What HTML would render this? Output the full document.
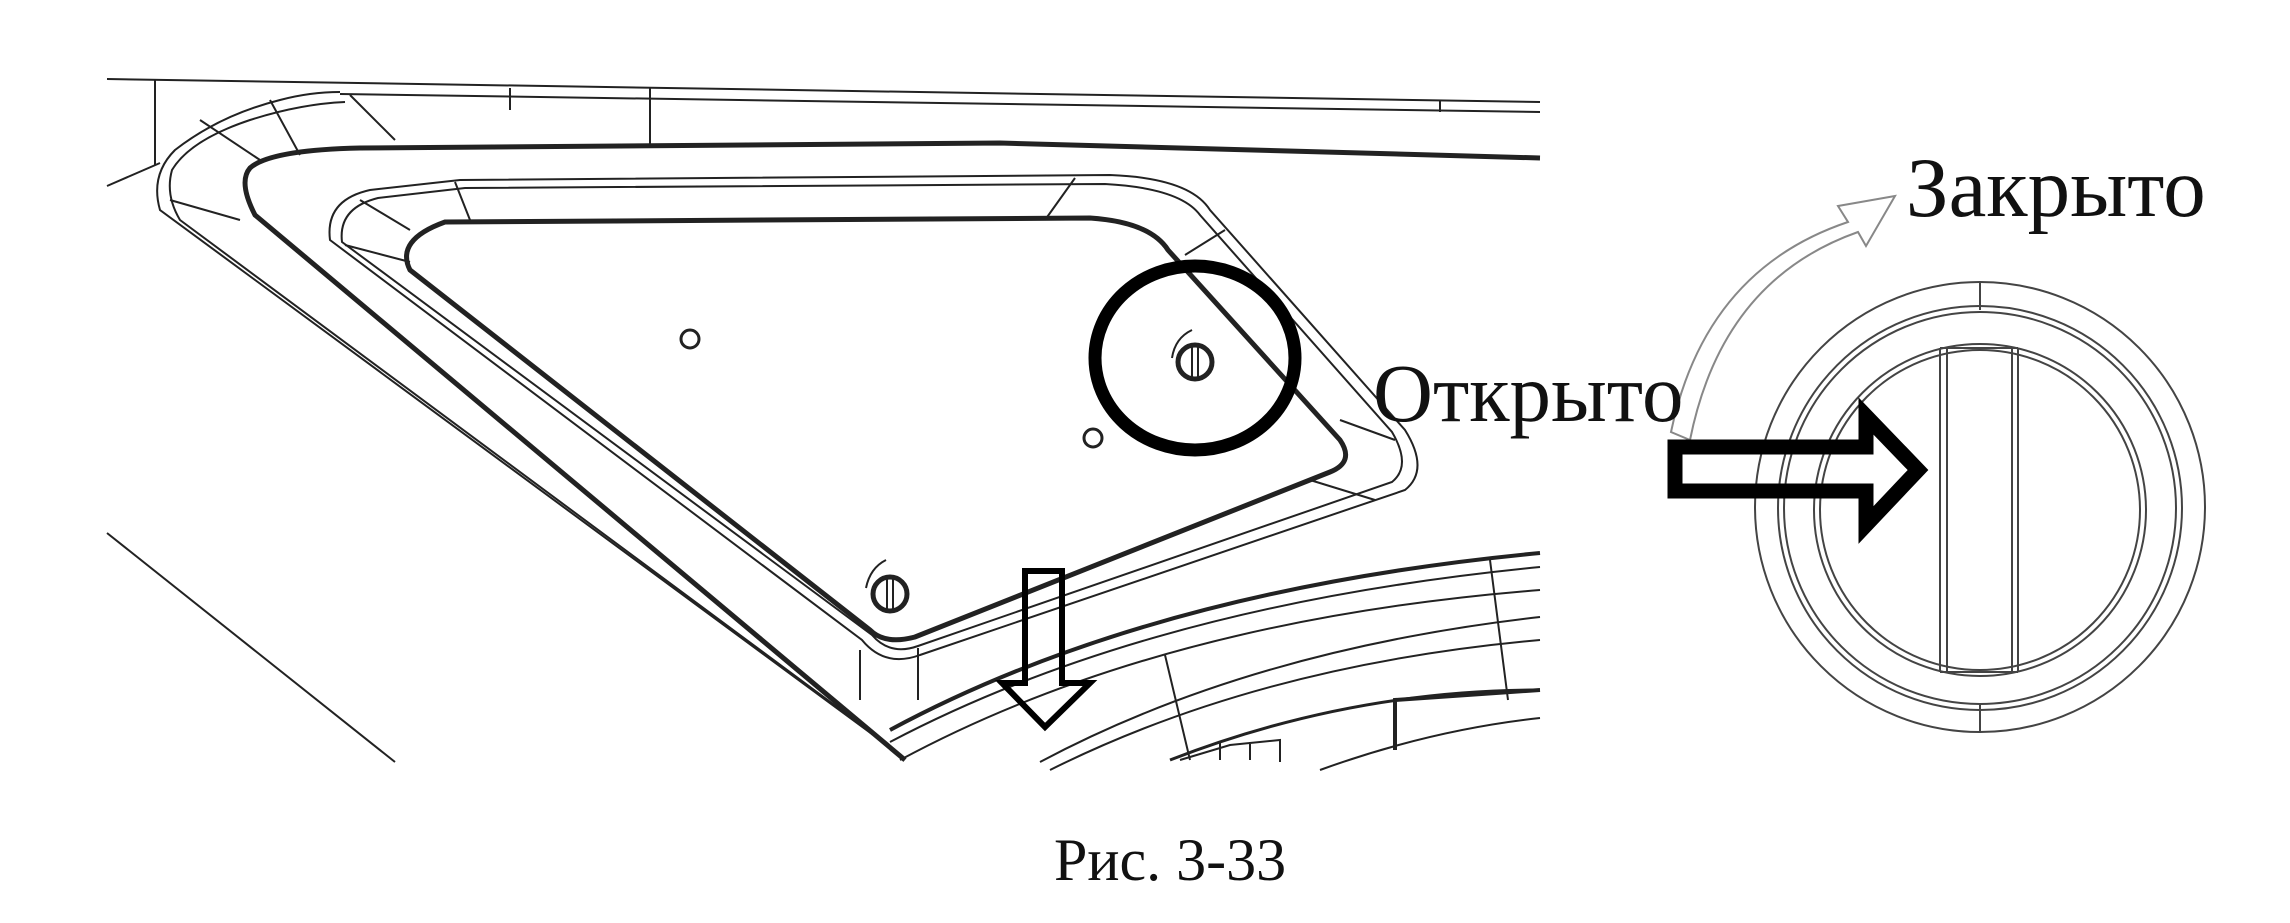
<!DOCTYPE html>
<html><head><meta charset="utf-8"><style>
html,body{margin:0;padding:0;background:#fff;}
svg{display:block}
text{font-family:"Liberation Serif",serif;fill:#111}
</style></head><body>
<svg width="2290" height="923" viewBox="0 0 2290 923" xmlns="http://www.w3.org/2000/svg">
<g fill="none" stroke="#222" stroke-width="2">
<path d="M107 79 L1540 102"/>
<path d="M340 94 L1540 112"/>
<path d="M155 79 L155 165"/>
<path d="M107 186 L160 163"/>
<path d="M107 533 L395 762"/>
<path d="M510 88 L510 110 M650 88 L650 148 M1440 100 L1440 112"/>
<path d="M340 92 Q310 92 280 100 Q220 115 175 150 Q150 175 160 210 L880 740"/>
<path d="M345 102 Q300 104 250 120 Q190 140 172 170 Q165 195 180 220 L895 750"/>
<path d="M200 120 L260 160 M170 200 L240 220 M270 100 L300 155 M350 95 L395 140"/>
<path d="M1540 158 L1000 143 L360 148 Q270 150 250 168 Q238 182 255 215 L905 760" stroke-width="5"/>
<path d="M460 180 L1110 175 Q1190 178 1210 210 L1405 430 Q1430 470 1405 490 L920 655 Q885 668 862 640 L330 240 Q325 200 370 190 Z"/>
<path d="M465 188 L1105 184 Q1180 188 1200 215 L1392 432 Q1412 466 1392 482 L918 646 Q890 656 872 635 L342 242 Q338 208 378 198 Z"/>
<path d="M455 182 L470 220 M1075 178 L1045 220 M1225 230 L1185 255 M1340 420 L1395 440 M1310 480 L1375 500 M860 650 L860 700 M918 648 L918 700 M345 245 L410 262 M360 200 L410 230"/>
<path d="M445 222 L1090 218 Q1150 222 1168 250 L1340 440 Q1355 462 1330 472 L915 637 Q885 645 870 630 L410 270 Q395 240 445 222 Z" stroke-width="5"/>
<circle cx="690" cy="339" r="9" stroke-width="3"/>
<circle cx="1093" cy="438" r="9" stroke-width="3"/>
<circle cx="1195" cy="362" r="17" stroke-width="5"/>
<path d="M1192 347 V377 M1198 347 V377" stroke-width="2"/>
<path d="M1172 358 Q1175 338 1192 330" stroke-width="2"/>
<circle cx="890" cy="594" r="17" stroke-width="5"/>
<path d="M887 579 V609 M893 579 V609" stroke-width="2"/>
<path d="M866 588 Q870 568 886 560" stroke-width="2"/>
<ellipse cx="1195" cy="358" rx="100" ry="92" stroke="#000" stroke-width="13"/>
<path d="M890 730 Q1150 590 1540 553" stroke-width="4"/>
<path d="M890 742 Q1150 605 1540 567"/>
<path d="M900 760 Q1160 620 1540 590"/>
<path d="M1040 762 Q1250 650 1540 617"/>
<path d="M1050 770 Q1260 665 1540 640"/>
<path d="M1170 760 Q1350 690 1540 690" stroke-width="3"/>
<path d="M1165 655 L1190 760 M1490 560 L1508 700"/>
<path d="M1395 750 L1395 700 L1540 690" stroke-width="4"/>
<path d="M1180 760 L1230 745 L1280 740 L1280 762 M1220 760 V742 M1250 760 V742"/>
<path d="M1320 770 Q1430 730 1540 718"/>
</g>
<path d="M1025 571 L1062 571 L1062 683 L1090 683 L1045 727 L1002 683 L1025 683 Z" fill="none" stroke="#000" stroke-width="6"/>
<g fill="none" stroke="#444" stroke-width="2">
<circle cx="1980" cy="507" r="225"/>
<circle cx="1980" cy="508" r="202"/>
<circle cx="1980" cy="508" r="196"/>
<circle cx="1980" cy="510" r="166"/>
<circle cx="1980" cy="510" r="160"/>
<path d="M1980 282 V310 M1980 705 V732"/>
<path d="M1940 348 V672 M1947 348 V672 M2012 348 V672 M2018 348 V672"/>
<path d="M1940 348 H2018 M1940 672 H2018"/>
</g>
<path d="M1671 432 Q1705 270 1848 222 L1838 206 L1895 196 L1866 246 L1858 232 Q1722 280 1690 440 Z" fill="#fff" stroke="#888" stroke-width="2"/>
<path d="M1675 447 L1866 447 L1866 416 L1918 470 L1866 525 L1866 491 L1675 491 Z" fill="none" stroke="#000" stroke-width="15" stroke-linejoin="miter"/>
<text x="1373" y="421" font-size="83">Открыто</text>
<text x="1906" y="216" font-size="85">Закрыто</text>
<text x="1054" y="880" font-size="60">Рис. 3-33</text>
</svg>
</body></html>
